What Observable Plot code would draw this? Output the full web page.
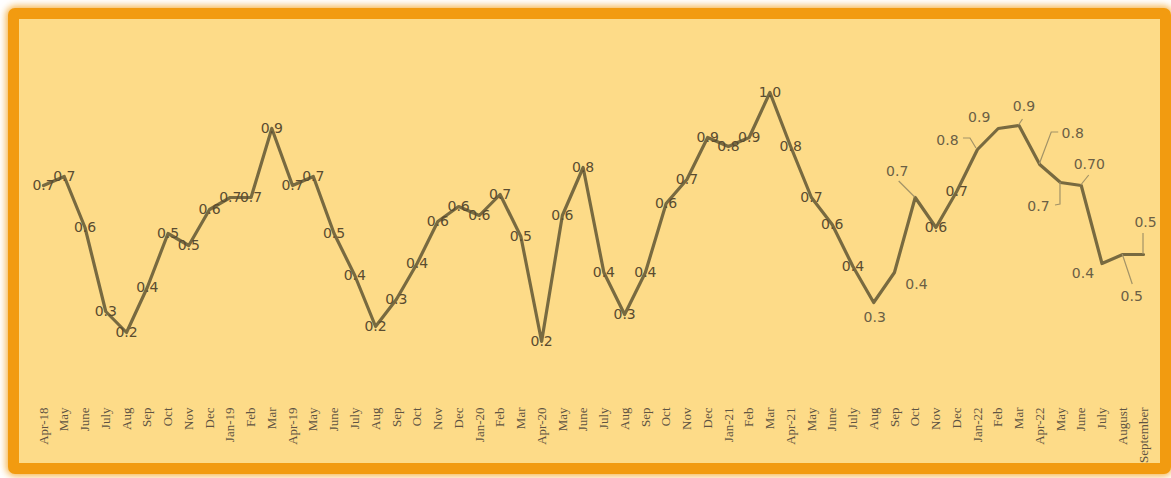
<!DOCTYPE html>
<html>
<head>
<meta charset="utf-8">
<script src="https://cdn.jsdelivr.net/npm/d3@7"></script>
<script src="https://cdn.jsdelivr.net/npm/@observablehq/plot@0.6"></script>
<style>
  html, body { margin: 0; padding: 0; background: #ffffff; }
  #wrap { position: relative; width: 1171px; height: 478px; overflow: hidden; }
  #frame {
    position: absolute; left: 8px; top: 8px; width: 1163px; height: 466px;
    box-sizing: border-box; border: 11px solid #f29b10; border-radius: 7px;
    background: #fddb88; box-shadow: 0 0 7px 2px rgba(242,155,16,0.75);
  }
  #chart { position: absolute; left: 0; top: 0; }
  #chart svg { background: transparent; }
</style>
</head>
<body>
<div id="wrap"><div id="frame"></div><div id="chart"></div></div>
<script>
const months = ["Apr-18","May","June","July","Aug","Sep","Oct","Nov","Dec","Jan-19","Feb","Mar",
  "Apr-19","May","June","July","Aug","Sep","Oct","Nov","Dec","Jan-20","Feb","Mar",
  "Apr-20","May","June","July","Aug","Sep","Oct","Nov","Dec","Jan-21","Feb","Mar",
  "Apr-21","May","June","July","Aug","Sep","Oct","Nov","Dec","Jan-22","Feb","Mar",
  "Apr-22","May","June","July","August","September"];

const values = [0.70,0.73,0.56,0.28,0.21,0.36,0.54,0.50,0.62,0.66,0.66,0.89,
  0.70,0.73,0.54,0.40,0.23,0.32,0.44,0.58,0.63,0.60,0.67,0.53,
  0.18,0.60,0.76,0.41,0.27,0.41,0.64,0.72,0.86,0.83,0.86,1.01,
  0.83,0.66,0.57,0.43,0.31,0.41,0.66,0.56,0.68,0.82,0.89,0.90,
  0.77,0.71,0.70,0.44,0.47,0.47];

const valueLabels = ["0.7","0.7","0.6","0.3","0.2","0.4","0.5","0.5","0.6","0.7","0.7","0.9",
  "0.7","0.7","0.5","0.4","0.2","0.3","0.4","0.6","0.6","0.6","0.7","0.5",
  "0.2","0.6","0.8","0.4","0.3","0.4","0.6","0.7","0.9","0.8","0.9","1.0",
  "0.8","0.7","0.6","0.4","0.3","0.4","0.7","0.6","0.7","0.8","0.9","0.9",
  "0.8","0.7","0.70","0.4","0.5","0.5"];

// annotation layout (pixel offsets of moved labels and their leader lines)
const labelLayout = {
  40: {dx: 1, dy: 15},
  41: {dx: 22, dy: 12},
  42: {dx: -18, dy: -26, leader: [[0,0],[-16,-16]]},
  45: {dx: -30, dy: -9, leader: [[-1,-1],[-7,-11],[-14,-11]]},
  46: {dx: -19, dy: -11},
  47: {dx: 5, dy: -19, leader: [[0,0],[4,-6]]},
  48: {dx: 33, dy: -31, leader: [[0,0],[12,-32],[19,-32]]},
  49: {dx: -22, dy: 24, leader: [[0,0],[0,22],[-5,23]]},
  50: {dx: 8, dy: -21, leader: [[0,0],[8,-10]]},
  51: {dx: -19, dy: 10},
  52: {dx: 9, dy: 42, leader: [[0,0],[10,30]]},
  53: {dx: 2, dy: -32, leader: [[0,0],[0,-21]]}
};

const idx = d3.range(months.length);
const centered = idx.filter(i => !(i in labelLayout));
const labelFont = "'DejaVu Sans', Verdana, sans-serif";

const offsetMarks = Object.entries(labelLayout).map(([k, o]) =>
  Plot.text([+k], {
    x: i => i, y: i => values[i], text: i => valueLabels[i],
    dx: o.dx, dy: o.dy, fill: "#6b5f45", fontSize: 14, fontFamily: labelFont
  })
);

function leaders(index, scales) {
  const g = document.createElementNS("http://www.w3.org/2000/svg", "g");
  const sx = scales.x, sy = scales.y;
  for (const [k, o] of Object.entries(labelLayout)) {
    if (!o.leader) continue;
    const px = sx(+k), py = sy(values[+k]);
    const p = document.createElementNS("http://www.w3.org/2000/svg", "path");
    p.setAttribute("d", "M" + o.leader.map(([a, b]) => (px + a) + "," + (py + b)).join("L"));
    p.setAttribute("fill", "none");
    p.setAttribute("stroke", "#a39367");
    p.setAttribute("stroke-width", "1.2");
    g.appendChild(p);
  }
  return g;
}

const chart = Plot.plot({
  width: 1171,
  height: 478,
  marginTop: 0, marginRight: 0, marginLeft: 0, marginBottom: 73,
  style: {background: "transparent", overflow: "visible"},
  x: {type: "point", domain: idx, range: [43, 1143], padding: 0},
  y: {domain: [0, 1], range: [395, 95], axis: null},
  marks: [
    Plot.axisX({
      anchor: "bottom", tickRotate: -90, tickSize: 0, tickPadding: 2,
      tickFormat: i => months[i], fontSize: 13, fontFamily: "'Liberation Serif', 'Times New Roman', serif",
      fill: "#5f5443", label: null
    }),
    Plot.line(idx, {x: i => i, y: i => values[i], stroke: "#786a40", strokeWidth: 3.2, strokeLinejoin: "round", strokeLinecap: "round"}),
    leaders,
    Plot.text(centered, {
      x: i => i, y: i => values[i], text: i => valueLabels[i],
      fill: "#5a4c30", fontSize: 14, fontFamily: labelFont
    }),
    ...offsetMarks
  ]
});
document.getElementById("chart").appendChild(chart);
</script>
</body>
</html>
